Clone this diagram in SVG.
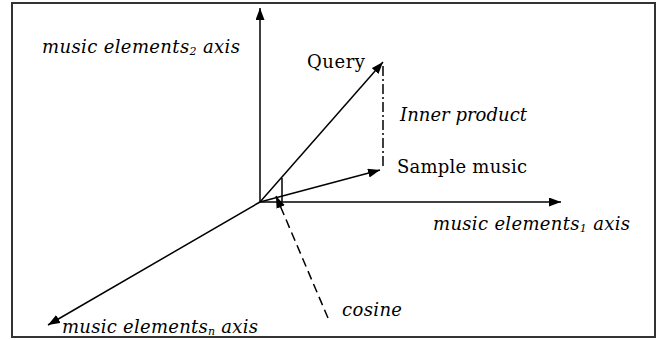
<svg xmlns="http://www.w3.org/2000/svg" width="664" height="340" viewBox="0 0 664 340">
  <defs>
    <marker id="arr" markerUnits="userSpaceOnUse" markerWidth="14" markerHeight="11" refX="12" refY="4.5" orient="auto">
      <path d="M0,0 L12,4.5 L0,9 z" fill="#000"/>
    </marker>
  </defs>
  <style>
    .lbl { font-family: "DejaVu Serif", "Liberation Serif", serif; font-size: 18px; fill: #000; }
    .it { font-style: italic; }
    .sub { font-size: 11px; }
    .ln { stroke: #000; stroke-width: 1.5; fill: none; }
  </style>
  <rect x="12" y="3" width="643" height="334" fill="#fff" stroke="#333" stroke-width="2"/>

  <g id="connectors">
    <line class="ln" x1="260" y1="202" x2="260" y2="8" marker-end="url(#arr)"/>
    <line class="ln" x1="260" y1="202" x2="561" y2="202" stroke="#333" stroke-width="2" marker-end="url(#arr)"/>
    <line class="ln" x1="260" y1="202" x2="48" y2="325" marker-end="url(#arr)"/>
    <line class="ln" x1="260" y1="202" x2="383" y2="62" marker-end="url(#arr)"/>
    <line class="ln" x1="260" y1="202" x2="380" y2="170" marker-end="url(#arr)"/>
    <line class="ln" x1="383" y1="66" x2="383" y2="168" stroke-width="1" stroke-dasharray="10,3,2,3"/>
    <line class="ln" x1="282" y1="178" x2="282" y2="202" stroke="#333"/>
    <line class="ln" x1="328" y1="318" x2="276" y2="196" stroke-dasharray="9,5" marker-end="url(#arr)"/>
  </g>

  <g id="axis2">
    <text class="lbl it" x="42" y="53" textLength="198">music elements<tspan class="sub" dy="2">2</tspan><tspan dy="-2"> axis</tspan></text>
  </g>
  <g id="axis1">
    <text class="lbl it" x="433" y="230" textLength="197">music elements<tspan class="sub" dy="2">1</tspan><tspan dy="-2"> axis</tspan></text>
  </g>
  <g id="axisn">
    <text class="lbl it" x="62" y="333" textLength="196">music elements<tspan class="sub" dy="2">n</tspan><tspan dy="-2"> axis</tspan></text>
  </g>
  <g id="query">
    <text class="lbl" x="307" y="68" textLength="58">Query</text>
  </g>
  <g id="inner">
    <text class="lbl it" x="400" y="121" textLength="127">Inner product</text>
  </g>
  <g id="sample">
    <text class="lbl" x="397" y="173" textLength="130">Sample music</text>
  </g>
  <g id="cosine">
    <text class="lbl it" x="342" y="316" textLength="60">cosine</text>
  </g>
</svg>
